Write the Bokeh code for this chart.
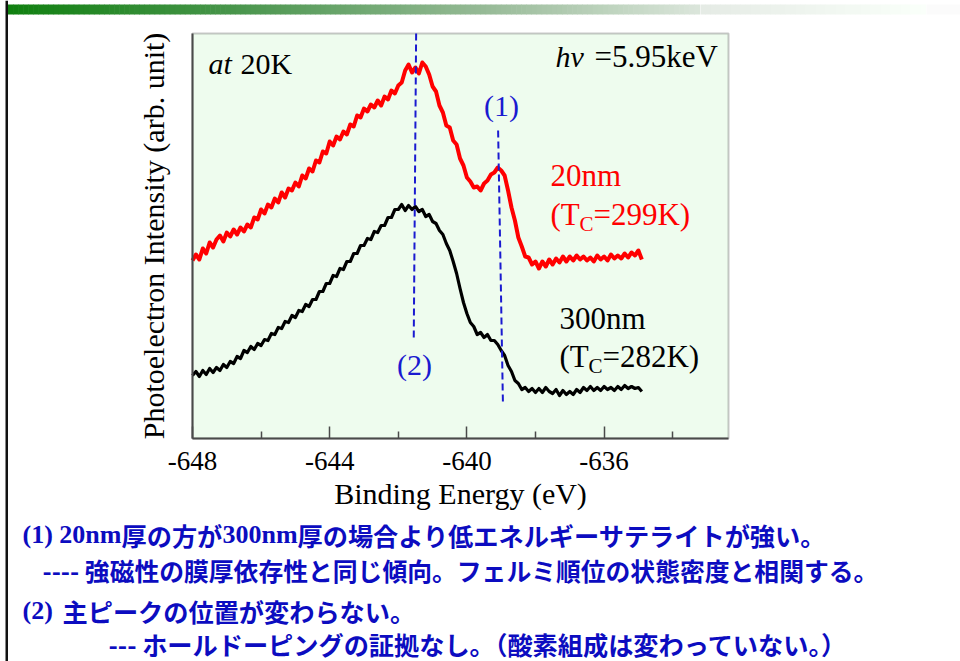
from bokeh.plotting import figure
from bokeh.models import Range1d, FixedTicker, Label, BoxAnnotation, LinearAxis
from bokeh.embed import file_html
from bokeh.resources import INLINE
import numpy as np

# ---- spectra: Mn 2p (binding energy grid, 0.1 eV step) ----
energy = np.round(np.arange(-648.0, -634.85, 0.1), 1)

# 20 nm film (offset upward), arb. units
red_20nm = [178, 184, 179, 190, 185, 196, 191, 199, 203, 197,
            206, 202, 209, 204, 211, 207, 214, 211, 221, 219,
            229, 225, 234, 231, 240, 236, 246, 241, 250, 248,
            256, 252, 263, 260, 270, 267, 278, 276, 287, 285,
            297, 293, 302, 299, 307, 304, 314, 312, 323, 321,
            330, 327, 334, 331, 338, 333, 342, 339, 348, 345,
            353, 356, 368, 374, 366, 371, 365, 376, 372, 364,
            352, 347, 333, 326, 313, 311, 298, 294, 280, 273,
            261, 257, 251, 252, 248, 255, 258, 264, 266, 271,
            268, 263, 248, 231, 218, 201, 192, 182, 181, 174,
            177, 170, 177, 172, 179, 174, 180, 176, 182, 177,
            182, 178, 183, 179, 182, 178, 181, 177, 183, 179,
            182, 178, 184, 180, 183, 180, 185, 181, 186, 183,
            188, 179]

# 300 nm film, arb. units
black_300nm = [63, 67, 62, 68, 64, 70, 66, 71, 68, 74,
               71, 77, 75, 82, 80, 88, 86, 92, 89, 95,
               93, 99, 98, 105, 104, 111, 110, 117, 116, 123,
               121, 128, 127, 134, 132, 139, 139, 147, 147, 155,
               155, 163, 162, 170, 169, 177, 177, 185, 185, 193,
               193, 200, 199, 207, 206, 213, 213, 221, 221, 229,
               229, 234, 228, 233, 229, 232, 227, 229, 222, 224,
               217, 215, 208, 204, 195, 188, 177, 165, 150, 136,
               125, 116, 112, 104, 106, 101, 104, 98, 98, 94,
               88, 83, 73, 67, 58, 55, 49, 51, 47, 50,
               46, 50, 46, 51, 47, 45, 49, 43, 48, 44,
               47, 44, 49, 46, 51, 48, 52, 48, 51, 48,
               52, 49, 51, 48, 52, 49, 53, 50, 52, 50,
               51, 47]

x_ticks = [-648, -644, -640, -636]
x_tick_labels = ["-648", "-644", "-640", "-636"]
x_minor = [-646, -642, -638, -634]

# guide lines (2) main peak and (1) satellite: start/end points
guide_x0 = [-641.48, -639.09]
guide_y0 = [405, 308]
guide_x1 = [-641.55, -638.95]
guide_y1 = [98, 36]

# ---- page geometry (pixels) ----
W, H = 960, 661
FRAME_L, FRAME_R, FRAME_T, FRAME_B = 192, 728, 33, 438
PX_PER_EV = 34.3
X0 = -648.0
X_END = X0 + (FRAME_R - FRAME_L) / PX_PER_EV
Y_TOP = FRAME_B - FRAME_T          # intensity units are page pixels above the axis

SERIF = "Liberation Serif"
CJK = "Noto Sans CJK JP"
BLUE_TXT = "#0c0cc0"
BLUE = "#1a1ad0"
EDGE = "#4a4a4a"

# the plotting frame covers the whole page; the chart box sits inside it
p = figure(width=W, height=H, output_backend="svg", toolbar_location=None,
           x_range=Range1d(X0 - FRAME_L / PX_PER_EV, X0 + (W - FRAME_L) / PX_PER_EV),
           y_range=Range1d(FRAME_B - H, FRAME_B),
           x_axis_location=None, y_axis_location=None,
           min_border=0, outline_line_color=None)
p.xgrid.visible = False
p.ygrid.visible = False
p.background_fill_color = "white"
p.border_fill_color = "white"

# chart box
p.add_layout(BoxAnnotation(left=X0, right=X_END, bottom=0, top=Y_TOP,
                           fill_color="#eefcee", fill_alpha=1,
                           line_color=EDGE, line_width=2, level="underlay"))

xa = LinearAxis(fixed_location=0, bounds=(X0, X_END))
xa.ticker = FixedTicker(ticks=x_ticks, minor_ticks=x_minor)
xa.major_label_overrides = dict(zip(x_ticks, x_tick_labels))
xa.major_tick_in = 12
xa.major_tick_out = 0
xa.minor_tick_in = 7
xa.minor_tick_out = 0
xa.major_tick_line_color = EDGE
xa.minor_tick_line_color = EDGE
xa.major_tick_line_width = 1.5
xa.minor_tick_line_width = 1.5
xa.axis_line_color = EDGE
xa.axis_line_width = 2
xa.major_label_text_font = SERIF
xa.major_label_text_font_size = "27px"
xa.major_label_text_color = "black"
xa.major_label_standoff = 13
xa.axis_label = "Binding Energy (eV)"
xa.axis_label_text_font = SERIF
xa.axis_label_text_font_size = "30px"
xa.axis_label_text_font_style = "normal"
xa.axis_label_text_color = "black"
xa.axis_label_standoff = 4
p.add_layout(xa, "below")

ya = LinearAxis(fixed_location=X0, bounds=(0, Y_TOP))
ya.ticker = FixedTicker(ticks=[])
ya.major_tick_in = 0
ya.major_tick_out = 0
ya.minor_tick_in = 0
ya.minor_tick_out = 0
ya.axis_line_color = EDGE
ya.axis_line_width = 2
ya.major_label_text_font_size = "0px"
ya.axis_label = "Photoelectron Intensity (arb. unit)"
ya.axis_label_text_font = SERIF
ya.axis_label_text_font_size = "30px"
ya.axis_label_text_font_style = "normal"
ya.axis_label_text_color = "black"
ya.axis_label_standoff = 23
p.add_layout(ya, "left")

# spectra
p.line(energy, red_20nm, line_color="#ff0000", line_width=4, line_join="round")
p.line(energy, black_300nm, line_color="black", line_width=3.2, line_join="round")

# guide lines
p.segment(x0=guide_x0, y0=guide_y0, x1=guide_x1, y1=guide_y1,
          line_color=BLUE, line_width=2, line_dash="7 4")


def ptext(t, cx, cy, size, color="black", font=SERIF, style="normal", align="left"):
    # page position (from top-left) -> screen units (from bottom-left)
    p.add_layout(Label(x=cx, y=H - cy, x_units="screen", y_units="screen",
                       text=t, text_font=font, text_font_size=size,
                       text_font_style=style, text_color=color,
                       text_align=align, text_baseline="middle"))


def pbox(x0, x1, y0, y1, color):
    p.add_layout(BoxAnnotation(left=x0, right=x1, top=H - y0, bottom=H - y1,
                               left_units="screen", right_units="screen",
                               top_units="screen", bottom_units="screen",
                               fill_color=color, fill_alpha=1, line_alpha=0))


ptext("at", 208, 63, "30px", style="italic")
ptext("20K", 240, 63, "30px")
ptext("hv", 555, 56, "30px", style="italic")
ptext("=5.95keV", 594, 56, "31px")
ptext("(1)", 501, 105, "30px", color=BLUE, align="center")
ptext("(2)", 414, 364, "30px", color=BLUE, align="center")

ptext("20nm", 550, 175, "31px", color="#ff0000")
ptext("(T", 550, 214, "31px", color="#ff0000")
ptext("C", 579, 223, "21px", color="#ff0000")
ptext("=299K)", 593, 214, "31px", color="#ff0000")

ptext("300nm", 559, 318, "31px")
ptext("(T", 559, 356, "31px")
ptext("C", 588, 365, "21px")
ptext("=282K)", 602, 356, "31px")

# ---- slide decoration: gradient title bar and left rule ----
stops = [(7.5, (16, 128, 16)), (240, (75, 150, 78)), (480, (150, 186, 150)),
         (699, (220, 230, 220))]
for i in range(len(stops) - 1):
    (a0, c0), (a1, c1) = stops[i], stops[i + 1]
    n = max(1, int((a1 - a0) / 5))
    for k in range(n):
        col = tuple(int(round(c0[j] + (c1[j] - c0[j]) * k / n)) for j in range(3))
        pbox(a0 + (a1 - a0) * k / n, a0 + (a1 - a0) * (k + 1) / n + 0.6, 4, 14,
             "#%02x%02x%02x" % col)
n = 45
for k in range(n):
    v = int(round(229 + (250 - 229) * k / n))
    pbox(700 + 225 * k / n, 700 + 225 * (k + 1) / n + 0.6, 4, 14,
         "#%02x%02x%02x" % (v, min(255, v + 6), v))
pbox(926, W, 4, 14, "#fbfbfb")
pbox(5, 7.5, 0, H, "#111111")

# ---- notes below the chart ----
NOTE = dict(color=BLUE_TXT, style="bold")
JP = "25.2px"
LAT = "26px"
ptext("(1) 20nm", 22, 534, LAT, **NOTE)
ptext("厚の方が", 121, 534, JP, font=CJK, **NOTE)
ptext("300nm", 222, 534, LAT, **NOTE)
ptext("厚の場合より低エネルギーサテライトが強い。", 297, 534, JP, font=CJK, **NOTE)
ptext("---- 強磁性の膜厚依存性と同じ傾向。フェルミ順位の状態密度と相関する。", 42, 569, "24.8px",
      font=CJK, **NOTE)
ptext("(2)", 22, 610, LAT, **NOTE)
ptext("主ピークの位置が変わらない。", 62, 610, JP, font=CJK, **NOTE)
ptext("--- ホールドーピングの証拠なし。（酸素組成は変わっていない。）", 108, 643, JP,
      font=CJK, **NOTE)

open("out.html", "w").write(file_html(p, INLINE))
